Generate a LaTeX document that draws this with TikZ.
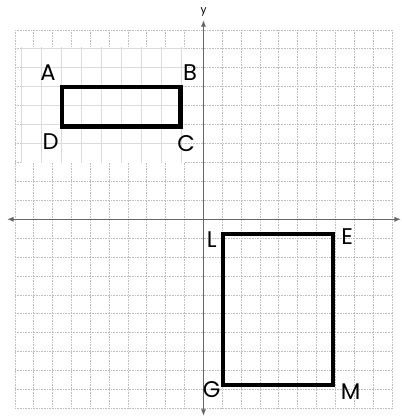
\documentclass[tikz,border=0pt]{standalone}
\usepackage{fontspec}
\setmainfont{Poppins}
\usetikzlibrary{arrows.meta}
\tikzset{
  gridline/.style={draw=black!25, line width=0.7pt, dash pattern=on 0.6pt off 0.6pt},
  pasteline/.style={draw=black!14, line width=0.7pt},
  axis/.style={draw=black!60, line width=1.1pt, {Latex[length=5pt,width=4pt]}-{Latex[length=5pt,width=4pt]}},
  figbox/.style={draw=black, line width=3.2pt, line join=miter},
  vertex/.style={font=\fontsize{17}{17}\selectfont, inner sep=0pt}
}
\begin{document}
\begin{tikzpicture}[x=0.75pt,y=0.75pt,yscale=-1,xscale=1]
\useasboundingbox (0,0) rectangle (402,417);

% dotted grid
\foreach \k in {0,...,20} {
  \draw[gridline] (15+18.85*\k,30) -- (15+18.85*\k,408.6);
  \draw[gridline] (15,30+18.93*\k) -- (392,30+18.93*\k);
}

% pasted patch
\fill[white] (22,47) rectangle (185,163);
\foreach \k in {0,...,8}
  \draw[pasteline] (21.7+20*\k,47) -- (21.7+20*\k,163);
\foreach \k in {1,...,6}
  \draw[pasteline] (22,30+18.93*\k) -- (185,30+18.93*\k);

% axes
\coordinate (xl) at (7,219.3);
\coordinate (xr) at (401,219.3);
\coordinate (yt) at (203.5,20);
\coordinate (yb) at (203.5,416);
\draw[axis] (xl) -- (xr);
\draw[axis] (yb) -- (yt);
\node[font=\fontsize{8}{8}\selectfont, inner sep=0pt] (ylab) at (203.5,12) {y};

% rectangle ABCD
\coordinate (A) at (61.7,86.7);
\coordinate (B) at (180.5,86.7);
\coordinate (C) at (180.5,126.5);
\coordinate (D) at (61.7,126.5);
\draw[figbox] (A) -- (B) -- (C) -- (D) -- cycle;
\node[vertex] (lA) at (48,73) {A};
\node[vertex] (lB) at (190,72.7) {B};
\node[vertex] (lC) at (186,143.3) {C};
\node[vertex] (lD) at (50.7,141.7) {D};

% rectangle LEMG
\coordinate (L) at (222.7,234.3);
\coordinate (E) at (333.3,234.3);
\coordinate (M) at (333.3,385);
\coordinate (G) at (222.7,385);
\draw[figbox] (L) -- (E) -- (M) -- (G) -- cycle;
\node[vertex] (lL) at (211.7,240) {L};
\node[vertex] (lE) at (347.3,236.7) {E};
\node[vertex] (lM) at (350.7,391.7) {M};
\node[vertex] (lG) at (211.7,390) {G};

\end{tikzpicture}
\end{document}
